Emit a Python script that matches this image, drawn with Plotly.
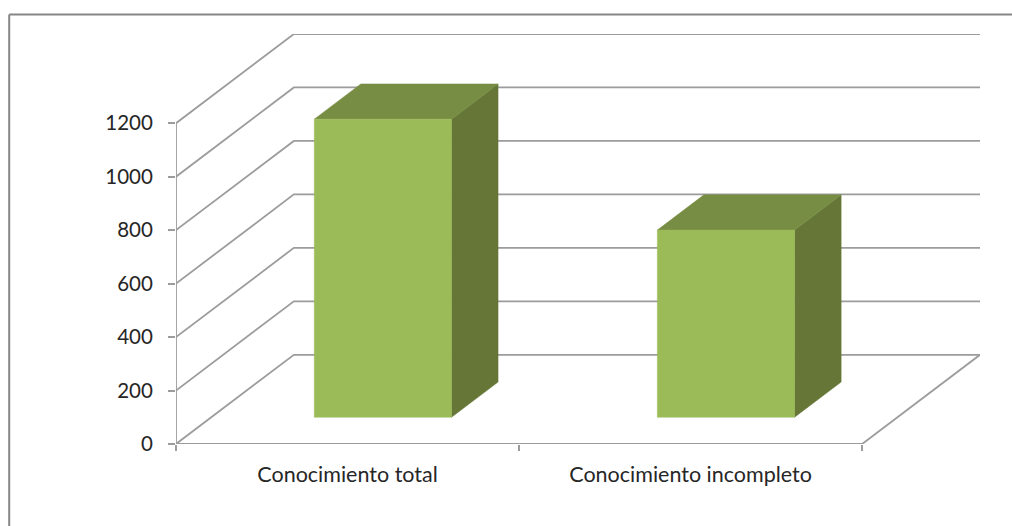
import plotly.graph_objects as go

# Chart content
categories = ["Conocimiento total", "Conocimiento incompleto"]
values = [1115, 700]
y_ticks = [0, 200, 400, 600, 800, 1000, 1200]

# Figure frame and plot box, in pixels
WIDTH, HEIGHT = 1012, 526
LEFT, RIGHT, TOP, BOTTOM = 175.5, 980.5, 33.5, 444.5

# Oblique projection: how far the back wall sits from the front edge, in axis units
PX_PER_UNIT_Y = 321.5 / 1200
PX_PER_CAT = (RIGHT - LEFT - 118) / 2
DEPTH_X = 118 / PX_PER_CAT
DEPTH_Y = 89.4 / PX_PER_UNIT_Y

# Bar footprint: position within a category slot and within the depth of the floor
BAR_START, BAR_END = 0.3, 0.7
DEPTH_NEAR, DEPTH_FAR = 0.3, 0.695

GRID = "#9C9C9C"
FRONT, TOP_FACE, SIDE = "#9BBB59", "#778D43", "#657636"
TEXT = "#262626"


def project(x, value, depth):
    return x + DEPTH_X * depth, value + DEPTH_Y * depth


def line(points, color=GRID, width=1.8):
    xs, ys = zip(*points)
    return go.Scatter(x=xs, y=ys, mode="lines", line=dict(color=color, width=width),
                      hoverinfo="skip", showlegend=False, cliponaxis=False)


def face(points, color):
    xs, ys = zip(*(points + points[:1]))
    return go.Scatter(x=xs, y=ys, mode="lines", fill="toself", fillcolor=color,
                      line=dict(color=color, width=0.5), hoverinfo="skip",
                      showlegend=False, cliponaxis=False)


fig = go.Figure()

# Wall gridlines: a diagonal on the side wall, then a horizontal on the back wall
n_cats = len(categories)
for tick in y_ticks:
    fig.add_trace(line([project(0, tick, 0), project(0, tick, 1), project(n_cats, tick, 1)]))

# Floor edge on the right, plus the two front axis lines
fig.add_trace(line([project(n_cats, 0, 0), project(n_cats, 0, 1)]))
fig.add_trace(line([(0, 0), (0, y_ticks[-1])]))
fig.add_trace(line([(0, 0), (n_cats, 0)]))

# Columns: side and top first, then the front face
for i, value in enumerate(values):
    x0, x1 = i + BAR_START, i + BAR_END
    fig.add_trace(face([project(x1, 0, DEPTH_NEAR), project(x1, 0, DEPTH_FAR),
                        project(x1, value, DEPTH_FAR), project(x1, value, DEPTH_NEAR)], SIDE))
    fig.add_trace(face([project(x0, value, DEPTH_NEAR), project(x1, value, DEPTH_NEAR),
                        project(x1, value, DEPTH_FAR), project(x0, value, DEPTH_FAR)], TOP_FACE))
    fig.add_trace(face([project(x0, 0, DEPTH_NEAR), project(x1, 0, DEPTH_NEAR),
                        project(x1, value, DEPTH_NEAR), project(x0, value, DEPTH_NEAR)], FRONT))


def paper_x(px):
    return (px - LEFT) / (RIGHT - LEFT)


def paper_y(px):
    return (BOTTOM - px) / (BOTTOM - TOP)


# Outer chart border, running off the right and bottom of the page
BORDER = dict(type="line", xref="paper", yref="paper", line=dict(color="#868686", width=2))
shapes = [
    dict(BORDER, x0=paper_x(8.5), x1=paper_x(WIDTH + 5), y0=paper_y(14), y1=paper_y(14)),
    dict(BORDER, x0=paper_x(8.5), x1=paper_x(8.5), y0=paper_y(14), y1=paper_y(HEIGHT + 5)),
]

fig.update_layout(
    width=WIDTH, height=HEIGHT,
    margin=dict(l=LEFT, r=WIDTH - RIGHT, t=TOP, b=HEIGHT - BOTTOM, pad=0, autoexpand=False),
    paper_bgcolor="white", plot_bgcolor="white",
    font=dict(family="Lato, Carlito, sans-serif", size=18, color=TEXT),
    showlegend=False, shapes=shapes,
    xaxis=dict(range=[0, n_cats + DEPTH_X], tickmode="array", tickvals=[0.5, 1.5],
               ticktext=categories, ticks="", ticklen=0, showgrid=False, zeroline=False,
               showline=False, ticklabelstandoff=15, tickfont=dict(size=21.5),
               minor=dict(tickmode="array", tickvals=list(range(n_cats + 1)), ticks="outside",
                          ticklen=6, tickwidth=1.8, tickcolor=GRID, showgrid=False)),
    yaxis=dict(range=[0, y_ticks[-1] + DEPTH_Y], tickmode="array", tickvals=y_ticks,
               ticks="outside", ticklen=7, tickwidth=1.8, tickcolor=GRID, showgrid=False,
               zeroline=False, showline=False, ticklabelstandoff=11, tickfont=dict(size=20.5)),
)

fig.write_html("out.html")
